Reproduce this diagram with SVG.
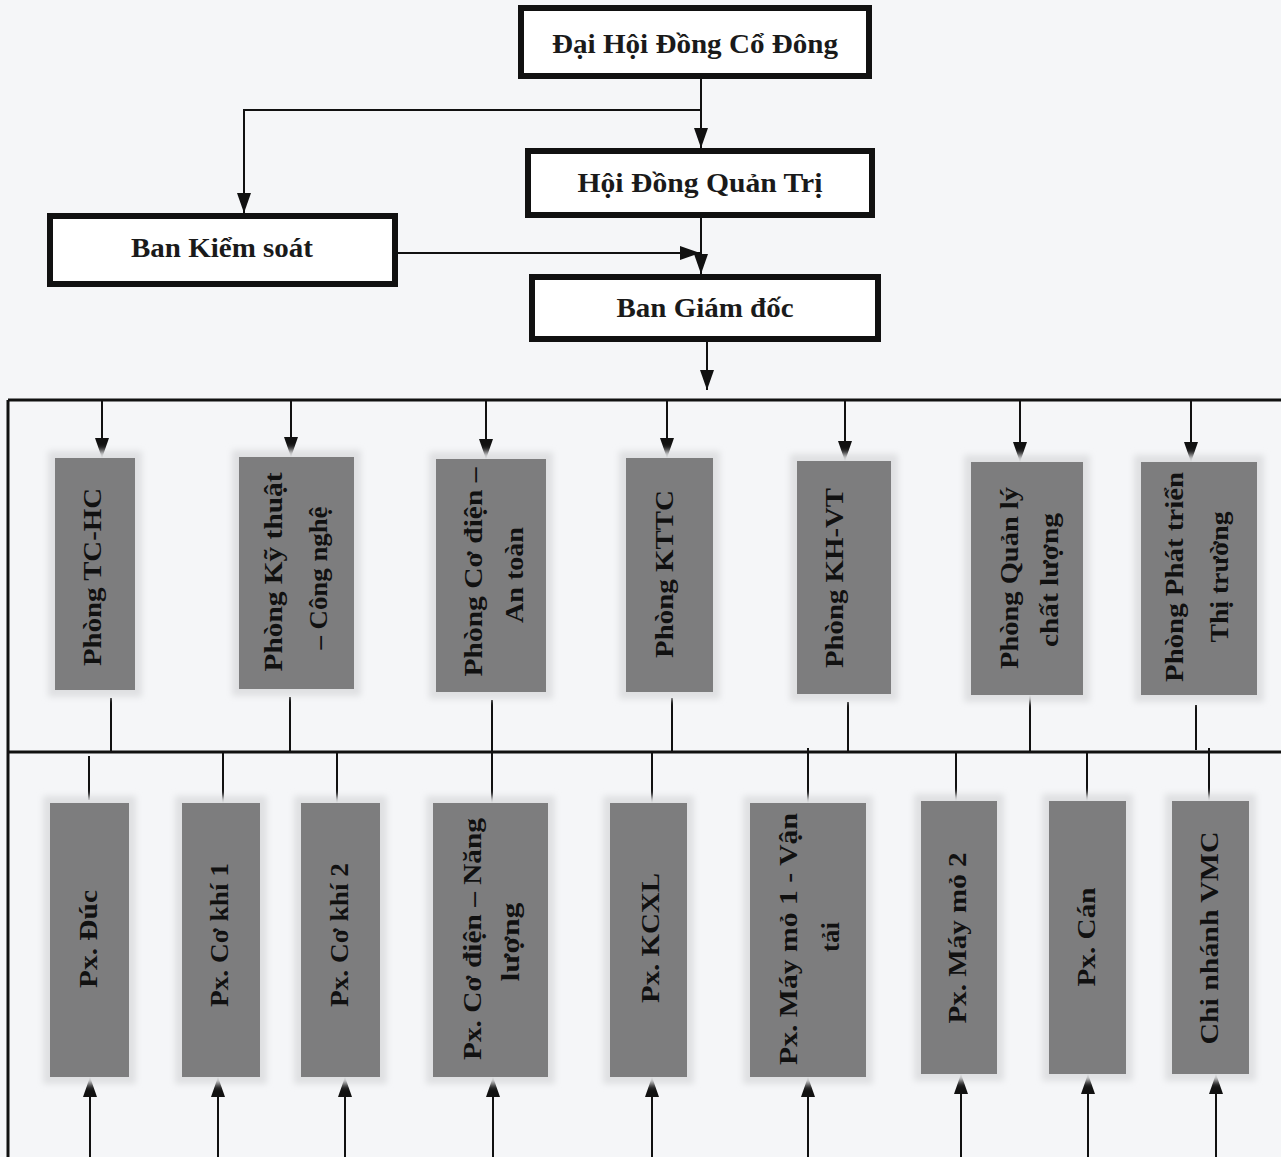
<svg xmlns="http://www.w3.org/2000/svg" width="1281" height="1157" viewBox="0 0 1281 1157">
<defs>
<marker id="ah" markerUnits="userSpaceOnUse" markerWidth="20" markerHeight="14" refX="20" refY="7" orient="auto">
<path d="M0,0 L20,7 L0,14 z" fill="#111"/>
</marker>
<filter id="soft" x="-20%" y="-20%" width="140%" height="140%">
<feGaussianBlur stdDeviation="3"/>
</filter>
<style>
.bg{fill:#f5f6f8}
.tb{fill:#ffffff;stroke:#111;stroke-width:6}
.ht{font-family:"Liberation Serif","Times New Roman",serif;font-weight:bold;font-size:28px;fill:#1a1a1a;text-anchor:middle}
.halo{fill:#dfe0e2;filter:url(#soft)}
.gb{fill:#7d7d7e}
.vt{font-family:"Liberation Serif","Times New Roman",serif;font-weight:bold;font-size:26px;fill:#111;text-anchor:middle}
.ln{stroke:#111;stroke-width:2;fill:none}
.frame{stroke:#111;stroke-width:3;fill:none}
.ar{stroke:#111;stroke-width:2;fill:none;marker-end:url(#ah)}
</style>
</defs>
<rect class="bg" x="0" y="0" width="1281" height="1157"/>

<g id="connectors">
<line class="frame" x1="8" y1="400" x2="1281" y2="400"/>
<line class="frame" x1="8" y1="752" x2="1281" y2="752"/>
<line class="frame" x1="8" y1="400" x2="8" y2="1157"/>
<line class="ar" x1="701" y1="79" x2="701" y2="148"/>
<polyline class="ln" points="701,110 244,110 244,196"/>
<line class="ar" x1="244" y1="180" x2="244" y2="213"/>
<line class="ar" x1="701" y1="218" x2="701" y2="274"/>
<line class="ar" x1="398" y1="253" x2="700" y2="253"/>
<line class="ar" x1="707" y1="342" x2="707" y2="390"/>
<line class="ar" x1="102" y1="401" x2="102" y2="458"/>
<line class="ar" x1="291" y1="401" x2="291" y2="457"/>
<line class="ar" x1="486" y1="401" x2="486" y2="459"/>
<line class="ar" x1="667" y1="401" x2="667" y2="458"/>
<line class="ar" x1="845" y1="401" x2="845" y2="461"/>
<line class="ar" x1="1020" y1="401" x2="1020" y2="462"/>
<line class="ar" x1="1191" y1="401" x2="1191" y2="462"/>
<line class="ln" x1="111" y1="698" x2="111" y2="752"/>
<line class="ln" x1="290" y1="697" x2="290" y2="752"/>
<line class="ln" x1="492" y1="700" x2="492" y2="803"/>
<line class="ln" x1="672" y1="698" x2="672" y2="752"/>
<line class="ln" x1="848" y1="702" x2="848" y2="752"/>
<line class="ln" x1="1030" y1="695" x2="1030" y2="752"/>
<line class="ln" x1="1196" y1="705" x2="1196" y2="750"/>
<line class="ln" x1="89" y1="756" x2="89" y2="800"/>
<line class="ln" x1="223" y1="752" x2="223" y2="803"/>
<line class="ln" x1="337" y1="752" x2="337" y2="803"/>
<line class="ln" x1="652" y1="752" x2="652" y2="803"/>
<line class="ln" x1="808" y1="748" x2="808" y2="803"/>
<line class="ln" x1="956" y1="752" x2="956" y2="801"/>
<line class="ln" x1="1087" y1="752" x2="1087" y2="801"/>
<line class="ln" x1="1209" y1="748" x2="1209" y2="801"/>
<line class="ar" x1="90" y1="1157" x2="90" y2="1077"/>
<line class="ar" x1="218" y1="1157" x2="218" y2="1077"/>
<line class="ar" x1="345" y1="1157" x2="345" y2="1077"/>
<line class="ar" x1="493" y1="1157" x2="493" y2="1077"/>
<line class="ar" x1="652" y1="1157" x2="652" y2="1077"/>
<line class="ar" x1="808" y1="1157" x2="808" y2="1077"/>
<line class="ar" x1="961" y1="1157" x2="961" y2="1074"/>
<line class="ar" x1="1088" y1="1157" x2="1088" y2="1074"/>
<line class="ar" x1="1216" y1="1157" x2="1216" y2="1074"/>
</g>

<g id="n-dhdcd">
<rect class="tb" x="521" y="8" width="348" height="68"/>
<text class="ht" x="695" y="53" textLength="286" lengthAdjust="spacingAndGlyphs">Đại Hội Đồng Cổ Đông</text>
</g>
<g id="n-hdqt">
<rect class="tb" x="528" y="151" width="344" height="64"/>
<text class="ht" x="700" y="192" textLength="245" lengthAdjust="spacingAndGlyphs">Hội Đồng Quản Trị</text>
</g>
<g id="n-bks">
<rect class="tb" x="50" y="216" width="345" height="68"/>
<text class="ht" x="222" y="257" textLength="182" lengthAdjust="spacingAndGlyphs">Ban Kiểm soát</text>
</g>
<g id="n-bgd">
<rect class="tb" x="532" y="277" width="346" height="62"/>
<text class="ht" x="705" y="317" textLength="177" lengthAdjust="spacingAndGlyphs">Ban Giám đốc</text>
</g>

<g id="n-tchc">
<rect class="halo" x="48" y="451" width="94" height="246"/>
<rect class="gb" x="55" y="458" width="80" height="232"/>
<text class="vt" transform="translate(101,577) rotate(-90)" textLength="178" lengthAdjust="spacingAndGlyphs">Phòng TC-HC</text>
</g>
<g id="n-ktcn">
<rect class="halo" x="232" y="450" width="129" height="246"/>
<rect class="gb" x="239" y="457" width="115" height="232"/>
<text class="vt" transform="translate(282,572) rotate(-90)" textLength="199" lengthAdjust="spacingAndGlyphs">Phòng Kỹ thuật</text>
<text class="vt" transform="translate(327,578) rotate(-90)" textLength="143" lengthAdjust="spacingAndGlyphs">– Công nghệ</text>
</g>
<g id="n-cdat">
<rect class="halo" x="429" y="452" width="124" height="247"/>
<rect class="gb" x="436" y="459" width="110" height="233"/>
<text class="vt" transform="translate(482,572) rotate(-90)" textLength="209" lengthAdjust="spacingAndGlyphs">Phòng Cơ điện –</text>
<text class="vt" transform="translate(523,575) rotate(-90)" textLength="96" lengthAdjust="spacingAndGlyphs">An toàn</text>
</g>
<g id="n-kttc">
<rect class="halo" x="619" y="451" width="101" height="248"/>
<rect class="gb" x="626" y="458" width="87" height="234"/>
<text class="vt" transform="translate(673,574) rotate(-90)" textLength="168" lengthAdjust="spacingAndGlyphs">Phòng KTTC</text>
</g>
<g id="n-khvt">
<rect class="halo" x="790" y="454" width="108" height="247"/>
<rect class="gb" x="797" y="461" width="94" height="233"/>
<text class="vt" transform="translate(843,578) rotate(-90)" textLength="180" lengthAdjust="spacingAndGlyphs">Phòng KH-VT</text>
</g>
<g id="n-qlcl">
<rect class="halo" x="964" y="455" width="126" height="247"/>
<rect class="gb" x="971" y="462" width="112" height="233"/>
<text class="vt" transform="translate(1018,578) rotate(-90)" textLength="182" lengthAdjust="spacingAndGlyphs">Phòng Quản lý</text>
<text class="vt" transform="translate(1058,580) rotate(-90)" textLength="134" lengthAdjust="spacingAndGlyphs">chất lượng</text>
</g>
<g id="n-pttt">
<rect class="halo" x="1134" y="455" width="130" height="247"/>
<rect class="gb" x="1141" y="462" width="116" height="233"/>
<text class="vt" transform="translate(1183,577) rotate(-90)" textLength="210" lengthAdjust="spacingAndGlyphs">Phòng Phát triển</text>
<text class="vt" transform="translate(1228,577) rotate(-90)" textLength="131" lengthAdjust="spacingAndGlyphs">Thị trường</text>
</g>

<g id="n-duc">
<rect class="halo" x="43" y="796" width="93" height="288"/>
<rect class="gb" x="50" y="803" width="79" height="274"/>
<text class="vt" transform="translate(97,939) rotate(-90)" textLength="98" lengthAdjust="spacingAndGlyphs">Px. Đúc</text>
</g>
<g id="n-ck1">
<rect class="halo" x="175" y="796" width="92" height="288"/>
<rect class="gb" x="182" y="803" width="78" height="274"/>
<text class="vt" transform="translate(228,935) rotate(-90)" textLength="144" lengthAdjust="spacingAndGlyphs">Px. Cơ khí 1</text>
</g>
<g id="n-ck2">
<rect class="halo" x="294" y="796" width="93" height="288"/>
<rect class="gb" x="301" y="803" width="79" height="274"/>
<text class="vt" transform="translate(348,935) rotate(-90)" textLength="144" lengthAdjust="spacingAndGlyphs">Px. Cơ khí 2</text>
</g>
<g id="n-cdnl">
<rect class="halo" x="426" y="796" width="129" height="288"/>
<rect class="gb" x="433" y="803" width="115" height="274"/>
<text class="vt" transform="translate(481,939) rotate(-90)" textLength="242" lengthAdjust="spacingAndGlyphs">Px. Cơ điện – Năng</text>
<text class="vt" transform="translate(519,942) rotate(-90)" textLength="79" lengthAdjust="spacingAndGlyphs">lượng</text>
</g>
<g id="n-kcxl">
<rect class="halo" x="603" y="796" width="91" height="288"/>
<rect class="gb" x="610" y="803" width="77" height="274"/>
<text class="vt" transform="translate(659,938) rotate(-90)" textLength="130" lengthAdjust="spacingAndGlyphs">Px. KCXL</text>
</g>
<g id="n-mm1">
<rect class="halo" x="743" y="796" width="130" height="288"/>
<rect class="gb" x="750" y="803" width="116" height="274"/>
<text class="vt" transform="translate(797,939) rotate(-90)" textLength="252" lengthAdjust="spacingAndGlyphs">Px. Máy mỏ 1 - Vận</text>
<text class="vt" transform="translate(839,937) rotate(-90)" textLength="30" lengthAdjust="spacingAndGlyphs">tải</text>
</g>
<g id="n-mm2">
<rect class="halo" x="914" y="794" width="90" height="287"/>
<rect class="gb" x="921" y="801" width="76" height="273"/>
<text class="vt" transform="translate(966,938) rotate(-90)" textLength="171" lengthAdjust="spacingAndGlyphs">Px. Máy mỏ 2</text>
</g>
<g id="n-can">
<rect class="halo" x="1042" y="794" width="91" height="287"/>
<rect class="gb" x="1049" y="801" width="77" height="273"/>
<text class="vt" transform="translate(1095,937) rotate(-90)" textLength="99" lengthAdjust="spacingAndGlyphs">Px. Cán</text>
</g>
<g id="n-vmc">
<rect class="halo" x="1165" y="794" width="91" height="287"/>
<rect class="gb" x="1172" y="801" width="77" height="273"/>
<text class="vt" transform="translate(1218,938) rotate(-90)" textLength="213" lengthAdjust="spacingAndGlyphs">Chi nhánh VMC</text>
</g>
</svg>
